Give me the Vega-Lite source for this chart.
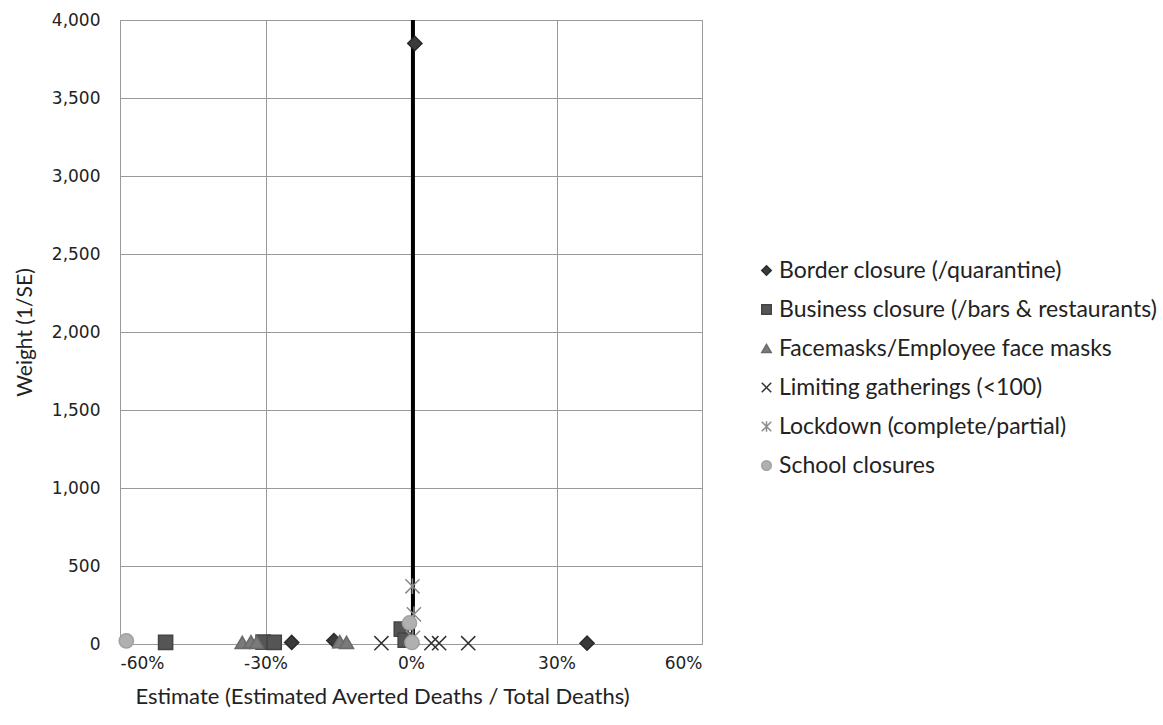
{
  "$schema": "https://vega.github.io/schema/vega-lite/v6.json",
  "width": 582,
  "height": 624,
  "autosize": "none",
  "padding": {"left": 120, "top": 20, "right": 461, "bottom": 81},
  "background": "white",
  "config": {
    "view": {"stroke": "#9a9a9a", "strokeWidth": 1},
    "axis": {"gridColor": "#9a9a9a", "gridWidth": 1, "gridOpacity": 1, "domain": false, "ticks": false, "labelColor": "#222", "titleColor": "#222", "titleFontWeight": "normal"}
  },
  "datasets": {
    "pts": [
      {"x": -24.6, "y": 10, "policy": "Border closure (/quarantine)"},
      {"x": -15.9, "y": 22, "policy": "Border closure (/quarantine)"},
      {"x": 36.3, "y": 5, "policy": "Border closure (/quarantine)"},
      {"x": 0.8, "y": 3850, "policy": "Border closure (/quarantine)"},
      {"x": -50.6, "y": 10, "policy": "Business closure (/bars & restaurants)"},
      {"x": -30.5, "y": 12, "policy": "Business closure (/bars & restaurants)"},
      {"x": -28.2, "y": 10, "policy": "Business closure (/bars & restaurants)"},
      {"x": -2.0, "y": 95, "policy": "Business closure (/bars & restaurants)"},
      {"x": -1.2, "y": 25, "policy": "Business closure (/bars & restaurants)"},
      {"x": -34.8, "y": 10, "policy": "Facemasks/Employee face masks"},
      {"x": -33.0, "y": 15, "policy": "Facemasks/Employee face masks"},
      {"x": -31.8, "y": 10, "policy": "Facemasks/Employee face masks"},
      {"x": -14.7, "y": 15, "policy": "Facemasks/Employee face masks"},
      {"x": -13.3, "y": 10, "policy": "Facemasks/Employee face masks"},
      {"x": -6.1, "y": 5, "policy": "Limiting gatherings (<100)"},
      {"x": 4.2, "y": 5, "policy": "Limiting gatherings (<100)"},
      {"x": 5.8, "y": 5, "policy": "Limiting gatherings (<100)"},
      {"x": 11.8, "y": 5, "policy": "Limiting gatherings (<100)"},
      {"x": 0.3, "y": 370, "policy": "Lockdown (complete/partial)"},
      {"x": 0.6, "y": 190, "policy": "Lockdown (complete/partial)"},
      {"x": 0.4, "y": 40, "policy": "Lockdown (complete/partial)"},
      {"x": -58.7, "y": 20, "policy": "School closures"},
      {"x": 0.2, "y": 10, "policy": "School closures"},
      {"x": -0.3, "y": 135, "policy": "School closures"}
    ],
    "line": [{"x": 0.4}]
  },
  "layer": [
    {
      "data": {"name": "line"},
      "mark": {"type": "rule", "color": "black", "strokeWidth": 4},
      "encoding": {"x": {"field": "x", "type": "quantitative"}}
    },
    {
      "data": {"name": "pts"},
      "mark": {"type": "point", "filled": true, "size": 200, "opacity": 1, "strokeWidth": 1.5},
      "encoding": {
        "x": {
          "field": "x", "type": "quantitative",
          "scale": {"domain": [-60, 60], "nice": false, "zero": false},
          "axis": {"values": [-60, -30, 0, 30, 60], "labelExpr": "datum.value + '%'", "labelFont": "DejaVu Sans", "labelFontSize": 17, "labelPadding": 11,
                   "title": "Estimate (Estimated Averted Deaths / Total Deaths)", "titleFont": "Lato", "titleFontSize": 22, "titlePadding": 15, "titleX": 262}
        },
        "y": {
          "field": "y", "type": "quantitative",
          "scale": {"domain": [0, 4000], "nice": false},
          "axis": {"values": [0, 500, 1000, 1500, 2000, 2500, 3000, 3500, 4000], "format": ",d", "labelFont": "DejaVu Sans", "labelFontSize": 17, "labelPadding": 20,
                   "title": "Weight (1/SE)", "titleFont": "Lato", "titleFontSize": 21, "titlePadding": 16}
        },
        "shape": {
          "field": "policy", "type": "nominal",
          "scale": {
            "domain": ["Border closure (/quarantine)", "Business closure (/bars & restaurants)", "Facemasks/Employee face masks", "Limiting gatherings (<100)", "Lockdown (complete/partial)", "School closures"],
            "range": ["diamond", "square", "triangle-up", "M-1,-1L1,1M-1,1L1,-1", "M-1,-1L1,1M-1,1L1,-1M0,-1.1L0,1.1", "circle"]
          },
          "legend": {"title": null, "orient": "none", "legendX": 635, "legendY": 239, "labelFont": "Lato", "labelFontSize": 23, "labelColor": "#222", "rowPadding": 15, "symbolSize": 90, "labelOffset": 1, "labelLimit": 500}
        },
        "color": {
          "field": "policy", "type": "nominal",
          "scale": {
            "domain": ["Border closure (/quarantine)", "Business closure (/bars & restaurants)", "Facemasks/Employee face masks", "Limiting gatherings (<100)", "Lockdown (complete/partial)", "School closures"],
            "range": ["#3a3a3a", "#555555", "#7a7a7a", "#333333", "#8a8a8a", "#b0b0b0"]
          }
        },
        "stroke": {
          "field": "policy", "type": "nominal",
          "scale": {
            "domain": ["Border closure (/quarantine)", "Business closure (/bars & restaurants)", "Facemasks/Employee face masks", "Limiting gatherings (<100)", "Lockdown (complete/partial)", "School closures"],
            "range": ["#2a2a2a", "#444444", "#6a6a6a", "#333333", "#8a8a8a", "#a0a0a0"]
          }
        }
      }
    }
  ]
}
